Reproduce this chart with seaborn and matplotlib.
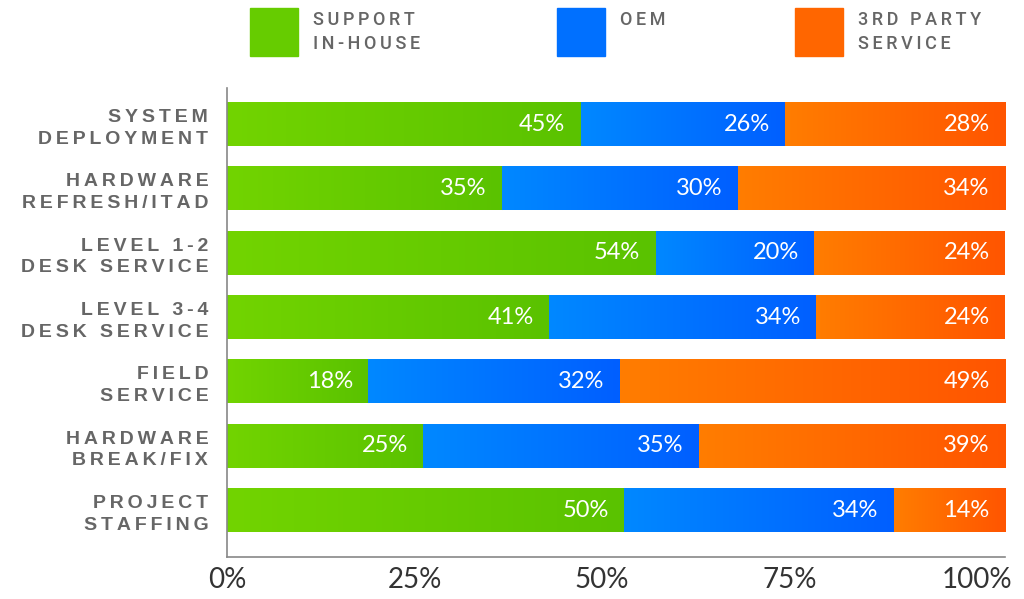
import numpy as np
import pandas as pd
import matplotlib
matplotlib.use("Agg")
import matplotlib.pyplot as plt
import seaborn as sns
from matplotlib.colors import LinearSegmentedColormap
from matplotlib.patches import Rectangle

categories = ["SYSTEM\nDEPLOYMENT", "HARDWARE\nREFRESH/ITAD", "LEVEL 1-2\nDESK SERVICE",
              "LEVEL 3-4\nDESK SERVICE", "FIELD\nSERVICE", "HARDWARE\nBREAK/FIX",
              "PROJECT\nSTAFFING"]
support_inhouse = [45, 35, 54, 41, 18, 25, 50]
oem = [26, 30, 20, 34, 32, 35, 34]
third_party = [28, 34, 24, 24, 49, 39, 14]
series_names = ["SUPPORT\nIN-HOUSE", "OEM", "3RD PARTY\nSERVICE"]
tick_labels = ["0%", "25%", "50%", "75%", "100%"]

base_colors = ["#66cc00", "#0070ff", "#ff6600"]
grad_colors = [("#72d400", "#5ac200"), ("#0088ff", "#005fff"), ("#ff7d00", "#ff5500")]

def spaced(s, sep="\u2009"):
    return "\n".join(sep.join(line) for line in s.split("\n"))

sns.set_theme(style="white")
plt.rcParams["font.family"] = ["Liberation Sans", "DejaVu Sans"]

vals = np.array([support_inhouse, oem, third_party], dtype=float)
tot = vals.sum(axis=0)
shares = vals / tot * 100
cum = np.cumsum(shares, axis=0)

df = pd.DataFrame({"category": categories,
                   "c1": cum[0], "c2": cum[1], "c3": cum[2]})

fig = plt.figure(figsize=(10.24, 5.99), dpi=100)
ax = fig.add_axes([227/1024, 42/599, 778/1024, 469/599])

bar_h = 0.68
for col, c in zip(["c3", "c2", "c1"], base_colors[::-1]):
    sns.barplot(data=df, x=col, y="category", orient="h", color=c, width=bar_h,
                saturation=1, ax=ax, order=categories, zorder=1)

# gradient overlays per segment
grad = np.linspace(0, 1, 256).reshape(1, -1)
for s in range(3):
    cmap = LinearSegmentedColormap.from_list(f"g{s}", list(grad_colors[s]))
    for i in range(len(categories)):
        left = 0 if s == 0 else cum[s - 1][i]
        right = cum[s][i]
        ax.imshow(grad, cmap=cmap, aspect="auto", interpolation="bilinear",
                  extent=[left, right, i + bar_h / 2, i - bar_h / 2], zorder=2)
        ax.annotate(f"{int(vals[s][i])}%", xy=(right, i), xytext=(-11, 0),
                    textcoords="offset points", ha="right", va="center",
                    color="white", fontsize=17, family="Lato", zorder=3)

ax.set_xlim(0, 100)
ax.set_ylim(6.73, -0.56)
ax.set_xlabel("")
ax.set_ylabel("")

ax.set_yticks(range(len(categories)))
ax.set_yticklabels([spaced(c) for c in categories], fontsize=14, fontweight="bold",
                   color="#666666", linespacing=1.35)
ax.tick_params(axis="y", length=0, pad=13.5)

ax.set_xticks([i * 24.1 for i in range(len(tick_labels))])
ax.set_xticklabels(tick_labels, fontsize=20, color="#333333", family="Lato")
ax.tick_params(axis="x", length=0, pad=7)

for sp in ["top", "right"]:
    ax.spines[sp].set_visible(False)
for sp in ["left", "bottom"]:
    ax.spines[sp].set_color("#888888")
    ax.spines[sp].set_linewidth(1.2)

# legend
leg_x = [250, 557, 795]
for name, c, x in zip(series_names, base_colors, leg_x):
    fig.add_artist(Rectangle((x / 1024, 1 - 56 / 599), 48 / 1024, 48 / 599,
                             transform=fig.transFigure, color=c))
    fig.text((x + 63) / 1024, 1 - 11 / 599, spaced(name), ha="left", va="top",
             fontsize=13, color="#666666", linespacing=1.4,
             family=["Roboto", "DejaVu Sans"], fontweight="medium")

fig.savefig("out.png", dpi=100)
